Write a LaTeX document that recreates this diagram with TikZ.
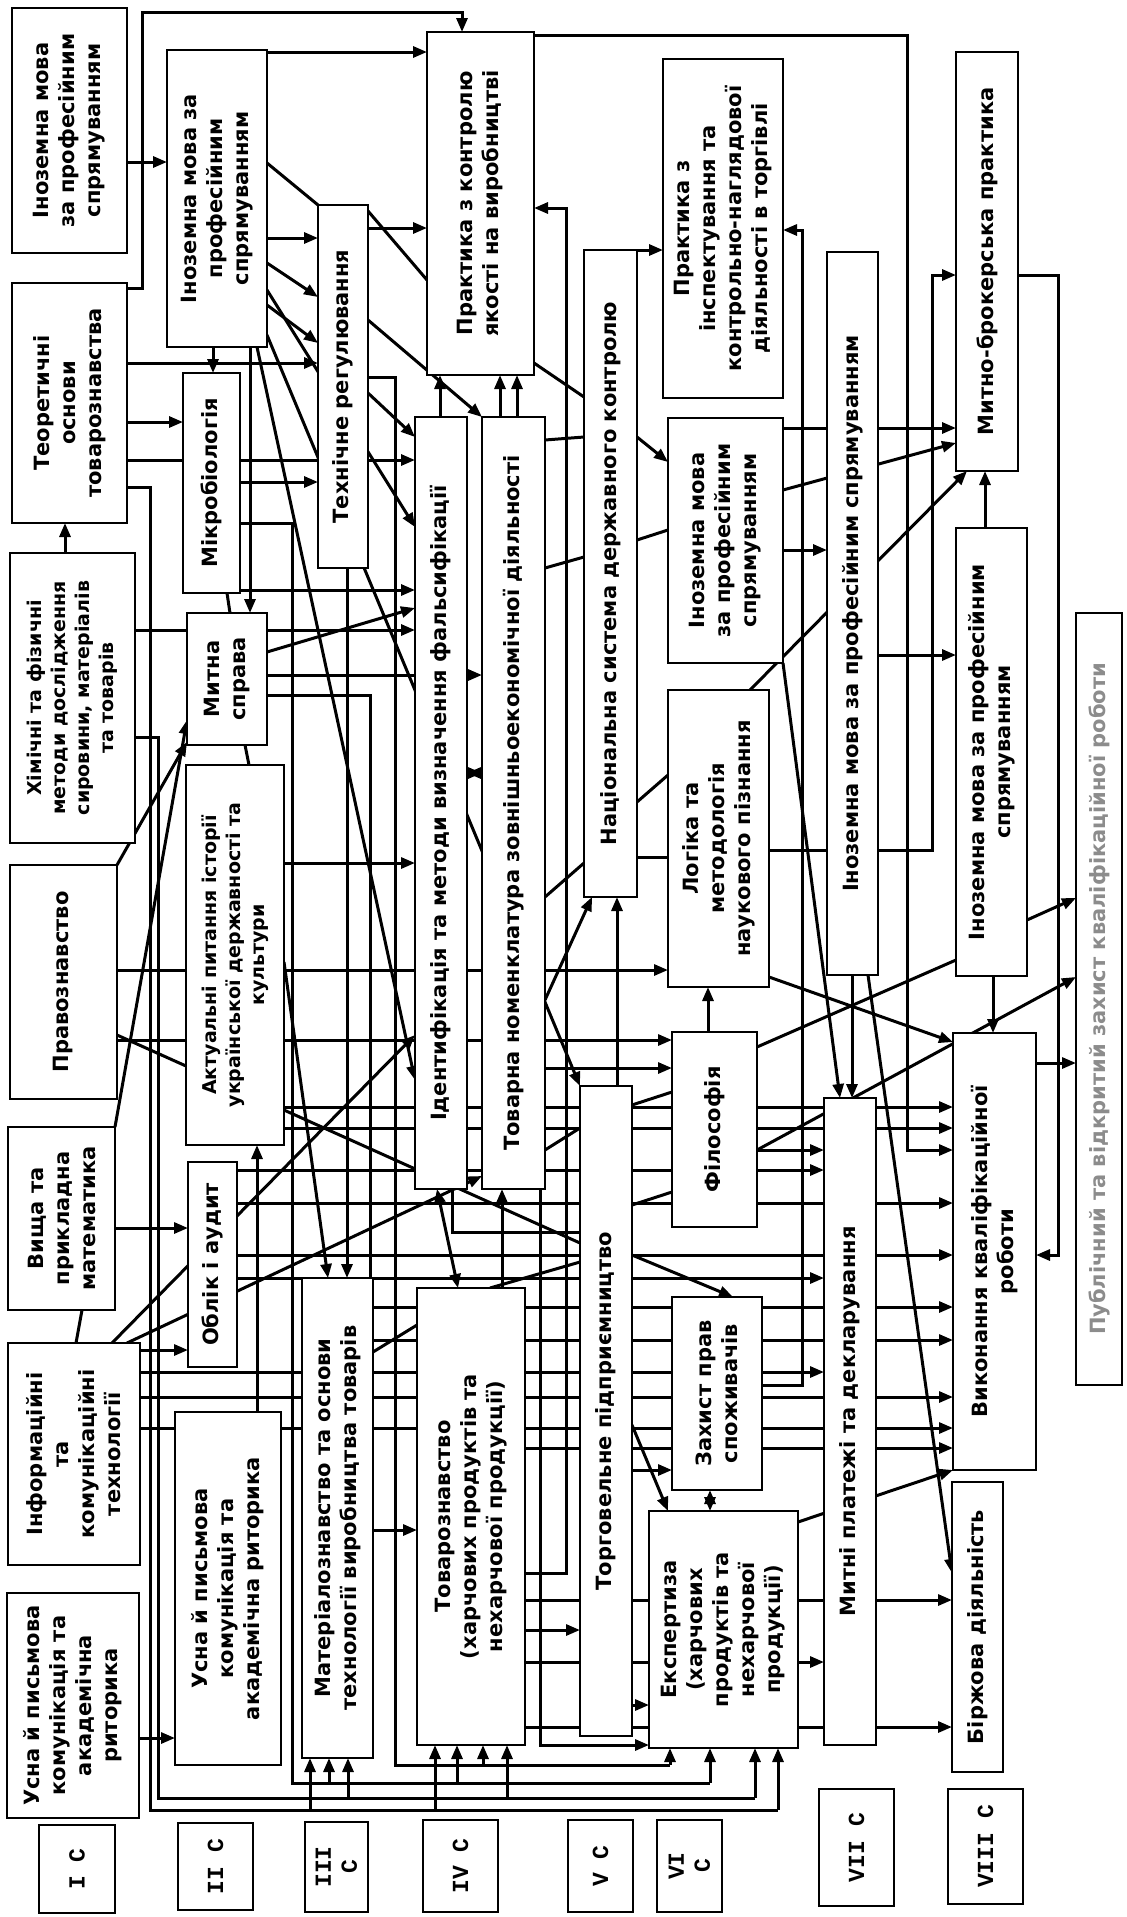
\documentclass[tikz,border=0pt]{standalone}
\usepackage{fontspec}
\setmainfont{DejaVu Sans}
\newfontfamily\monof{Liberation Mono}
\usetikzlibrary{arrows.meta}
\pgfdeclarelayer{bg}
\pgfsetlayers{bg,main}
\tikzset{
  bx/.style={draw, line width=2.4pt, fill=white, inner sep=0pt, outer sep=0pt},
  tx/.style={rotate=90, align=center, inner sep=0pt, font=\fontsize{21}{26}\selectfont\bfseries},
  lab/.style={font=\monof\fontsize{23}{26}\selectfont\bfseries},
  small/.style={font=\fontsize{19}{24}\selectfont\bfseries},
  ar/.style={line width=3pt, -{Triangle[length=14pt,width=11pt]}},
  ln/.style={line width=3pt},
  dar/.style={line width=3pt, {Triangle[length=14pt,width=11pt]}-{Triangle[length=14pt,width=11pt]}},
}
\newcommand\mkbox[7][]{%
  \node[bx, minimum width={(#5)-(#3)}, minimum height={(#6)-(#4)}] (#2) at ({((#3)+(#5))/2},{((#4)+(#6))/2}) {};
  \node[tx,#1] (#2t) at (#2.center) {#7};}
\begin{document}
\begin{tikzpicture}[x=1pt,y=-1pt]
\useasboundingbox (0,0) rectangle (1127,1917);
% ---------- boxes ----------
\mkbox{c1a}{12}{8}{127}{253}{Іноземна мова\\за професійним\\спрямуванням}
\mkbox{c1b}{12}{283}{127}{523}{Теоретичні\\основи\\товарознавства}
\mkbox[small]{c1c}{10}{553}{135}{843}{Хімічні та фізичні\\методи дослідження\\сировини, матеріалів\\та товарів}
\mkbox{c1d}{10}{865}{117}{1099}{Правознавство}
\mkbox{c1e}{8}{1127}{115}{1310}{Вища та\\прикладна\\математика}
\mkbox{c1f}{8}{1343}{140}{1565}{Інформаційні\\та\\комунікаційні\\технології}
\mkbox{c1g}{7}{1593}{139}{1818}{Усна й письмова\\комунікація та\\академічна\\риторика}
\mkbox{c2a}{167}{50}{267}{347}{Іноземна мова за\\професійним\\спрямуванням}
\mkbox{c2b}{183}{373}{240}{593}{Мікробіологія}
\mkbox{c2c}{187}{613}{267}{745}{Митна\\справа}
\mkbox[small]{c2d}{186}{765}{284}{1145}{Актуальні питання історії\\української державності та\\культури}
\mkbox{c2e}{188}{1162}{237}{1367}{Облік і аудит}
\mkbox{c2f}{175}{1412}{281}{1765}{Усна й письмова\\комунікація та\\академічна риторика}
\mkbox{c3a}{318}{205}{368}{568}{Технічне регулювання}
\mkbox{c3b}{302}{1278}{373}{1758}{Матеріалознавство та основи\\технології виробництва товарів}
\mkbox{c4a}{427}{32}{534}{375}{Практика з контролю\\якості на виробництві}
\mkbox{c4b}{415}{417}{467}{1189}{Ідентифікація та методи визначення фальсифікації}
\mkbox{c4c}{482}{417}{545}{1189}{Товарна номенклатура зовнішньоекономічної діяльності}
\mkbox{c4d}{417}{1288}{525}{1745}{Товарознавство\\(харчових продуктів та\\нехарчової продукції)}
\mkbox{c5a}{584}{250}{637}{897}{Національна система державного контролю}
\mkbox{c5b}{580}{1086}{632}{1736}{Торговельне підприємництво}
\mkbox{c6a}{663}{59}{783}{398}{Практика з\\інспектування та\\контрольно-наглядової\\діяльності в торгівлі}
\mkbox{c6b}{668}{418}{783}{663}{Іноземна мова\\за професійним\\спрямуванням}
\mkbox{c6c}{668}{690}{769}{987}{Логіка та\\методологія\\наукового пізнання}
\mkbox{c6d}{672}{1032}{757}{1227}{Філософія}
\mkbox{c6e}{672}{1297}{762}{1490}{Захист прав\\споживачів}
\mkbox{c6f}{649}{1511}{798}{1748}{Експертиза\\(харчових\\продуктів та\\нехарчової\\продукції)}
\mkbox{c7a}{827}{252}{878}{975}{Іноземна мова за професійним спрямуванням}
\mkbox{c7b}{824}{1098}{876}{1745}{Митні платежі та декларування}
\mkbox{c8a}{956}{52}{1018}{471}{Митно-брокерська практика}
\mkbox{c8b}{956}{528}{1027}{976}{Іноземна мова за професійним\\спрямуванням}
\mkbox{c8c}{953}{1033}{1036}{1470}{Виконання кваліфікаційної\\роботи}
\mkbox{c8d}{952}{1482}{1003}{1772}{Біржова діяльність}
\mkbox[text=black!45]{c9}{1076}{613}{1122}{1385}{Публічний та відкритий захист кваліфікаційної роботи}
% semester labels
\mkbox[lab]{s1}{39}{1825}{115}{1913}{I C}
\mkbox[lab]{s2}{178}{1823}{253}{1910}{II C}
\mkbox[lab]{s3}{305}{1822}{368}{1912}{III\\C}
\mkbox[lab]{s4}{423}{1820}{498}{1912}{IV C}
\mkbox[lab]{s5}{568}{1820}{633}{1912}{V C}
\mkbox[lab]{s6}{657}{1820}{722}{1912}{VI\\C}
\mkbox[lab]{s7}{819}{1789}{894}{1906}{VII C}
\mkbox[lab]{s8}{948}{1789}{1023}{1904}{VIII C}
\coordinate (busA) at (0,1810);
\coordinate (busB) at (0,1798);
\coordinate (busC) at (0,1783);
\coordinate (busD) at (0,1765);
% ---------- connectors ----------
\begin{pgfonlayer}{bg}
\fill[white] (0,0) rectangle (1127,1917);
% column I
\draw[ar] (c1a.east|-0,162) -- (c2a.west|-0,162);
\draw[ar] (c1b.east|-0,288) -| (142,12) -| (c4a.north-|462,0);
\draw[ar] (c1b.east|-0,363) -- (c3a.west|-0,363);
\draw[ar] (c1b.east|-0,422) -- (c2b.west|-0,422);
\draw[ar] (c1b.east|-0,460) -- (c4b.west|-0,460);
\draw[ln] (c1b.east|-0,487) -| (busA-|150,0) -- (busA-|778,0);
\draw[ar] (c1c.north-|65,0) -- (c1b.south-|65,0);
\draw[ar] (c1c.east|-0,630) -- (c4b.west|-0,630);
\draw[ln] (c1c.east|-0,737) -| (busB-|158,0) -- (busB-|755,0);
\draw[ar] (c1d.north east) -- (c2c.west|-0,742);
\draw[ar] (c1e.north east) -- (c2c.west|-0,720);
\draw[ar] (c1e.east|-0,1228) -- (c2e.west|-0,1228);
\draw[ln] (c1e.south-|82,0) -- (c1f.north-|76,0);
\draw[ar] (c1f.east|-0,1350) -- (c2e.west|-0,1350);
\draw[ar] (c1f.north-|112,0) -- (c4b.west|-0,1035);
\draw[ar] (c1f.north-|127,0) -- (c4c.west|-0,1176);
\draw[ln] (c1d.east|-0,1035) -- (c5b.west|-0,1243);
\draw[ar] (c1g.east|-0,1738) -- (c2f.west|-0,1738);
\draw[ar] (c1d.east|-0,970) -- (c6c.west|-0,970);
\draw[ar] (c1d.east|-0,1040) -- (c6d.west|-0,1040);
\draw[ar] (c1f.east|-0,1372) -- (c7b.west|-0,1372);
\draw[ar] (c1f.east|-0,1397) -- (c8c.west|-0,1397);
\draw[ar] (c1f.east|-0,1428) -- (c8c.west|-0,1428);
% column II
\draw[ar] (c2a.east|-0,52) -- (c4a.west|-0,52);
\draw[ar] (c2a.east|-0,238) -- (c3a.west|-0,238);
\draw[ln] (c2a.east|-0,163) -- (c3a.north west);
\draw[ar] (c2a.east|-0,263) -- (c3a.west|-0,297);
\draw[ar] (c2a.east|-0,305) -- (c3a.west|-0,343);
\draw[ar] (c2a.east|-0,290) -- (c4b.west|-0,527);
\draw[ar] (c2a.south-|213,0) -- (c2b.north-|213,0);
\draw[ar] (c2a.south-|250,0) -- (c2c.north-|250,0);
\draw[ar] (c2a.south-|257,0) -- (c4b.west|-0,1080);
\draw[ar] (c2a.east|-0,335) -- (c5b.north west);
\draw[ar] (c2b.east|-0,482) -- (c3a.west|-0,482);
\draw[ar] (c2b.east|-0,590) -- (c4b.west|-0,590);
\draw[ln] (c2b.east|-0,523) -| (busC-|292,0) -- (busC-|710,0);
\draw[ln] (c2b.south-|227,0) -- (c2c.north-|230,0);
\draw[ln] (c2c.south-|245,0) -- (c2d.north-|249,0);
\draw[ar] (c2c.east|-0,652) -- (c4b.west|-0,608);
\draw[ar] (c2c.east|-0,675) -- (c4c.west|-0,675);
\draw[ln] (c2c.east|-0,695) -| (c3b.north-|370,0);
\draw[ar] (c2d.east|-0,863) -- (c4b.west|-0,863);
\draw[ar] (c2d.east|-0,962) -- (c3b.north-|328,0);
\draw[ar] (c2d.east|-0,1107) -- (c8c.west|-0,1107);
\draw[ar] (c2d.east|-0,1128) -- (c8c.west|-0,1128);
\draw[ar] (c2f.north-|257,0) -- (c2d.south-|257,0);
\draw[ar] (c2e.east|-0,1170) -- (c7b.west|-0,1170);
\draw[ar] (c2e.east|-0,1203) -- (c8c.west|-0,1203);
\draw[ar] (c2e.east|-0,1255) -- (c8c.west|-0,1255);
\draw[ar] (c2e.east|-0,1278) -- (c7b.west|-0,1278);
% column III
\draw[ar] (c3a.south-|347,0) -- (c3b.north-|347,0);
\draw[ln] (c3a.east|-0,211) -- (c4a.west|-0,280);
\draw[ar] (c3a.east|-0,228) -- (c4a.west|-0,228);
\draw[ar] (c3a.east|-0,320) -- (c4c.north west);
\draw[ar] (c3a.east|-0,393) -- (c4b.west|-0,437);
\draw[ln] (c3a.east|-0,377) -| (busD-|395,0) -- (busD-|670,0);
\draw[ar] (c3b.east|-0,1307) -- (c8c.west|-0,1307);
\draw[ar] (c3b.east|-0,1340) -- (c8c.west|-0,1340);
\draw[ln] (c3b.east|-0,1352) -- (c4d.west|-0,1325);
\draw[ar] (c3b.east|-0,1530) -- (c4d.west|-0,1530);
% column IV
\draw[ar] (c4b.north-|440,0) -- (c4a.south-|440,0);
\draw[ar] (c4c.north-|500,0) -- (c4a.south-|500,0);
\draw[ar] (c4c.north-|517,0) -- (c4a.south-|517,0);
\draw[dar] (c4b.east|-0,773) -- (c4c.west|-0,773);
\draw[dar] (c4b.south-|437,0) -- (c4d.north-|458,0);
\draw[ar] (c4d.north-|502,0) -- (c4c.south-|502,0);
\draw[ln] (c4b.south-|452,0) |- (c5b.west|-0,1232);
\draw[ar] (c4c.east|-0,1068) -- (c6d.west|-0,1068);
\draw[ln] (c4c.east|-0,1150) -- (c5b.west|-0,1128);
\draw[ln] (c4d.north-|490,0) -- (c5b.west|-0,1262);
\draw[ln] (c4c.east|-0,440) -- (c5a.west|-0,437);
\draw[ln] (c4c.east|-0,568) -- (c5a.west|-0,557);
\draw[ln] (c4c.east|-0,897) -- (c5a.west|-0,863);
\draw[ln] (c4a.east|-0,363) -- (c5a.west|-0,397);
\draw[ar] (c4c.east|-0,1000) -- (c5a.south-|592,0);
\draw[ar] (c4a.east|-0,35) -| (907,1150) -- (c8c.west|-0,1150);
\draw[ar] (c4d.east|-0,1573) -| (566,208) -- (c4a.east|-0,208);
\draw[ar] (c4c.south-|540,0) |- (c6f.west|-0,1745);
\draw[ar] (c4d.east|-0,1448) -- (c8c.west|-0,1448);
\draw[ar] (c4d.east|-0,1600) -- (c8d.west|-0,1600);
\draw[ar] (c4d.east|-0,1630) -- (c5b.west|-0,1630);
\draw[ar] (c4d.east|-0,1662) -- (c7b.west|-0,1662);
\draw[ar] (c4d.east|-0,1727) -- (c8d.west|-0,1727);
% column V
\draw[ar] (c5a.north east) -- (c6a.west|-0,250);
\draw[ar] (c5a.east|-0,437) -- (c6b.west|-0,462);
\draw[ln] (c5a.east|-0,540) -- (c6b.west|-0,530);
\draw[ln] (c5a.east|-0,802) -- (c6c.west|-0,775);
\draw[ln] (c5a.east|-0,857) -- (c6c.west|-0,857);
\draw[ar] (c5b.north-|617,0) -- (c5a.south-|617,0);
\draw[ln] (c5b.east|-0,1105) -- (c6d.west|-0,1092);
\draw[ln] (c5b.east|-0,1205) -- (c6d.west|-0,1192);
\draw[ar] (c5b.east|-0,1255) -- (c6e.north-|733,0);
\draw[ar] (c5b.east|-0,1470) -- (c6e.west|-0,1470);
\draw[ar] (c5b.east|-0,1425) -- (c6f.north-|668,0);
\draw[ar] (c5b.east|-0,1705) -- (c6f.west|-0,1705);
% column VI
\draw[ar] (c6d.north-|708,0) -- (c6c.south-|708,0);
\draw[dar] (c6e.south-|710,0) -- (c6f.north-|710,0);
\draw[ar] (c6e.east|-0,1385) -| (802,230) -- (c6a.east|-0,230);
\draw[ar] (c6c.east|-0,850) -| (932,275) -- (c8a.west|-0,275);
\draw[ar] (c6c.north-|750,0) -- (c8a.south-|967,0);
\draw[ar] (c6c.east|-0,977) -- (c8c.west|-0,1042);
\draw[ln] (c6d.east|-0,1047) -- (c8b.west|-0,960);
\draw[ar] (c6d.east|-0,1150) -- (c7b.west|-0,1150);
\draw[ar] (c6d.east|-0,1150) -- (c9.west|-0,977);
\draw[ar] (c6b.east|-0,550) -- (c7a.west|-0,550);
\draw[ar] (c6b.east|-0,428) -- (c8a.west|-0,428);
\draw[ar] (c6b.east|-0,490) -- (c8a.west|-0,443);
\draw[ar] (c6b.south east) -- (c7b.north-|840,0);
\draw[ar] (c6f.east|-0,1522) -- (c8c.south west);
% column VII / VIII
\draw[ar] (c7a.east|-0,655) -- (c8b.west|-0,655);
\draw[ar] (c7a.south-|852,0) -- (c7b.north-|852,0);
\draw[ar] (c7a.south-|868,0) -- (c8d.west|-0,1573);
\draw[ar] (c8b.north-|985,0) -- (c8a.south-|985,0);
\draw[ar] (c8b.south-|993,0) -- (c8c.north-|993,0);
\draw[ar] (c8b.east|-0,920) -- (c9.west|-0,898);
\draw[ar] (c8c.east|-0,1063) -- (c9.west|-0,1063);
\draw[ar] (c8a.east|-0,275) -| (1058,1255) -- (c8c.east|-0,1255);
% bottom buses
\draw[ar] (busA-|310,0) -- (c3b.south-|310,0);
\draw[ar] (busA-|435,0) -- (c4d.south-|435,0);
\draw[ar] (busA-|778,0) -- (c6f.south-|778,0);
\draw[ar] (busB-|348,0) -- (c3b.south-|348,0);
\draw[ar] (busB-|507,0) -- (c4d.south-|507,0);
\draw[ar] (busB-|755,0) -- (c6f.south-|755,0);
\draw[ar] (busC-|329,0) -- (c3b.south-|329,0);
\draw[ar] (busC-|457,0) -- (c4d.south-|457,0);
\draw[ar] (busC-|710,0) -- (c6f.south-|710,0);
\draw[ar] (busD-|483,0) -- (c4d.south-|483,0);
\draw[ar] (busD-|670,0) -- (c6f.south-|670,0);
\end{pgfonlayer}
\end{tikzpicture}
\end{document}
